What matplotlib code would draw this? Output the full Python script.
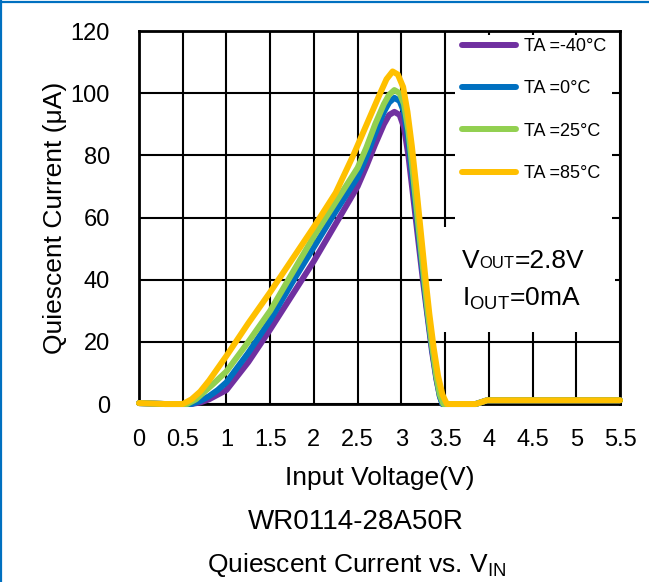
import matplotlib
matplotlib.use('Agg')
import matplotlib.pyplot as plt
from matplotlib.lines import Line2D
from matplotlib.patches import Rectangle

plt.rcParams['font.family'] = ['Liberation Sans', 'DejaVu Sans']
plt.rcParams['mathtext.default'] = 'regular'

# Input voltage (V) and quiescent current (uA)
x_cold = [0, 0.3, 0.6, 0.7, 0.8, 0.9, 1.0, 1.25, 1.5, 1.75, 2.0, 2.25, 2.5, 2.6, 2.7, 2.8, 2.86, 2.92,
          2.98, 3.03, 3.08, 3.13, 3.2, 3.25, 3.3, 3.35, 3.4, 3.44, 3.47, 3.85, 3.98, 5.5]
y_m40 = [0.3, 0, 0, 0.5, 1.5, 3, 4.5, 13.5, 24, 35, 46, 58, 70, 76.5, 83.5, 90, 93, 94,
         93, 89, 80, 68, 51, 39, 28, 17, 8, 2.5, 0, 0, 1.2, 1.2]
y_0 = [0.3, 0, 0, 1, 2.5, 4.5, 7, 16.5, 27, 39, 50.5, 62, 73, 79.5, 87, 94, 97, 98.5,
       97.5, 94, 85, 72, 54, 41, 29, 18, 8.5, 2.5, 0, 0, 1.2, 1.2]

x_25 = [0, 0.3, 0.55, 0.65, 0.75, 0.85, 1.0, 1.25, 1.5, 1.75, 2.0, 2.25, 2.5, 2.6, 2.7, 2.8, 2.86, 2.92,
        2.98, 3.03, 3.08, 3.13, 3.2, 3.25, 3.3, 3.35, 3.4, 3.44, 3.48, 3.85, 3.98, 5.5]
y_25 = [0.3, 0, 0, 1.5, 4, 6.5, 10.5, 20, 30, 42, 54, 65, 76, 82.5, 90, 96.5, 99.5, 101,
        100, 96.5, 88, 75, 56, 43, 30, 19, 9, 3, 0, 0, 1.2, 1.2]

x_85 = [0, 0.3, 0.5, 0.6, 0.7, 0.8, 1.0, 1.25, 1.5, 1.75, 2.0, 2.25, 2.45, 2.55, 2.65, 2.75, 2.83, 2.9,
        2.96, 3.02, 3.07, 3.12, 3.17, 3.22, 3.27, 3.32, 3.37, 3.42, 3.47, 3.52, 3.85, 3.98, 4.5, 5.5]
y_85 = [0.3, 0, 0, 1.5, 4, 7.5, 15.5, 26, 36, 46.5, 57, 68, 80, 86.5, 93, 99.5, 104.5, 107,
        106, 102, 94, 83, 70, 56, 42, 29, 18, 9, 3, 0, 0, 1.2, 1.2, 1.2]

labels = ['TA =-40°C', 'TA =0°C', 'TA =25°C', 'TA =85°C']
colors = ['#7030A0', '#0070C0', '#92D050', '#FFC000']
xs = [x_cold, x_cold, x_25, x_85]
ys = [y_m40, y_0, y_25, y_85]

x_ticks = [0, 0.5, 1, 1.5, 2, 2.5, 3, 3.5, 4, 4.5, 5, 5.5]
x_ticklabels = ['0', '0.5', '1', '1.5', '2', '2.5', '3', '3.5', '4', '4.5', '5', '5.5']
y_ticks = [0, 20, 40, 60, 80, 100, 120]

fig = plt.figure(figsize=(6.49, 5.82), dpi=100)
ax = fig.add_axes([0.2142, 0.3058, 0.7411, 0.6409])

for x, y, lab, c in zip(xs, ys, labels, colors):
    ax.plot(x, y, color=c, lw=4.3, label=lab, solid_joinstyle='round',
            solid_capstyle='round', zorder=3, clip_on=False)

ax.set_xlim(0, 5.5)
ax.set_ylim(0, 120)
ax.set_xticks(x_ticks)
ax.set_xticklabels(x_ticklabels)
ax.set_yticks(y_ticks)
ax.tick_params(axis='both', length=0, labelsize=17)
ax.tick_params(axis='x', pad=18)
ax.tick_params(axis='y', pad=21)
ax.set_axisbelow(True)
ax.grid(True, color='black', lw=1.5)
for s in ax.spines.values():
    s.set_linewidth(2)

ax.set_xlabel('Input Voltage(V)', fontsize=19)
ax.xaxis.set_label_coords(0.5, -0.166)
ax.set_ylabel('Quiescent Current (μA)', fontsize=19)
ax.yaxis.set_label_coords(-0.150, 0.5)

# white boxes behind legend and condition text
ax.add_patch(Rectangle((0.657, 0.455), 0.326, 0.5345, transform=ax.transAxes,
                       facecolor='white', edgecolor='none', zorder=1))
ax.add_patch(Rectangle((0.630, 0.193), 0.36, 0.282, transform=ax.transAxes,
                       facecolor='white', edgecolor='none', zorder=1))

leg = ax.legend(loc='upper left', bbox_to_anchor=(0.672, 0.981), frameon=False,
                fontsize=13, handlelength=3.0, handletextpad=0.4, labelspacing=1.4,
                borderpad=0, borderaxespad=0)

t1 = ax.text(3.69, 43.8, 'V', fontsize=19, va='baseline', ha='left', zorder=4)
t2 = ax.annotate('OUT', xy=(1, 43.8), xycoords=(t1, 'data'), fontsize=12,
                 va='baseline', ha='left', zorder=4)
ax.annotate('=2.8V', xy=(1, 43.8), xycoords=(t2, 'data'), fontsize=19,
            va='baseline', ha='left', zorder=4)
ax.text(3.69, 31.5, r'I$_{OUT}$=0mA', fontsize=19, va='baseline', ha='left', zorder=4)

fig.text(356 / 649, 1 - 522 / 582, 'WR0114-28A50R', fontsize=20, ha='center', va='center')
fig.text(357 / 649, 1 - 565 / 582, r'Quiescent Current vs. V$_{IN}$', fontsize=19,
         ha='center', va='center')

# blue page frame (left and top)
fig.add_artist(Line2D([0.002, 0.002], [0, 1], transform=fig.transFigure, color='#0070C0', lw=1.6))
fig.add_artist(Line2D([0, 1], [0.997, 0.997], transform=fig.transFigure, color='#0070C0', lw=1.6))

fig.savefig('out.png', dpi=100)
